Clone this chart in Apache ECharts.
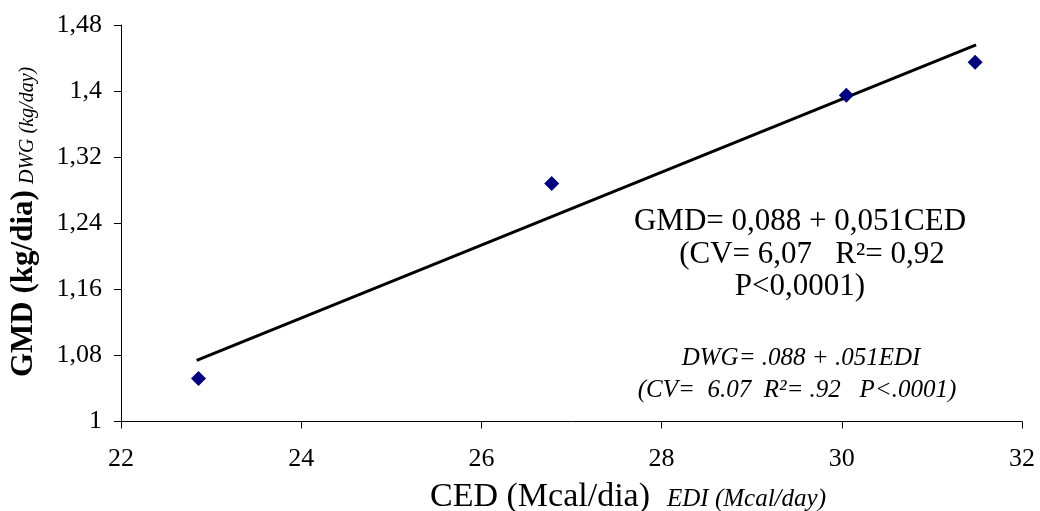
<!DOCTYPE html>
<html>
<head>
<meta charset="utf-8">
<script src="https://cdn.jsdelivr.net/npm/echarts@6/dist/echarts.min.js"></script>
<style>
  html, body { margin: 0; padding: 0; background: #fff; }
  #chart { width: 1040px; height: 511px; }
</style>
</head>
<body>
<div id="chart"></div>
<script>
// valores
const ced = [22.86, 26.78, 30.05, 31.48];
const gmd = [1.052, 1.288, 1.395, 1.435];
// reta de regressão (extremos)
const trendX = [22.84, 31.49];
const trendY = [1.074, 1.456];
const yTickLabels = ['1', '1,08', '1,16', '1,24', '1,32', '1,4', '1,48'];
const xTickLabels = ['22', '24', '26', '28', '30', '32'];

const serif = "'Liberation Serif', 'Times New Roman', serif";

const chart = echarts.init(document.getElementById('chart'));

function txt(x, y, text, font, align, extra) {
    return Object.assign({
        type: 'text',
        x: x,
        y: y,
        silent: true,
        style: {
            text: text,
            font: font,
            fill: '#000',
            align: align, textAlign: align,
            verticalAlign: 'middle', textVerticalAlign: 'middle'
        }
    }, extra || {});
}

chart.setOption({
    animation: false,
    backgroundColor: '#fff',
    grid: { left: 121, right: 18, top: 25, bottom: 89.5 },
    xAxis: {
        type: 'value',
        min: 22, max: 32, interval: 2,
        axisLine: { lineStyle: { color: '#000', width: 1 } },
        axisTick: { length: 7, lineStyle: { color: '#000' } },
        splitLine: { show: false },
        axisLabel: {
            margin: 25,
            fontFamily: serif, fontSize: 26, color: '#000',
            formatter: (v) => xTickLabels[Math.round((v - 22) / 2)]
        }
    },
    yAxis: {
        type: 'value',
        min: 1, max: 1.48, interval: 0.08,
        axisLine: { show: true, lineStyle: { color: '#000', width: 1 } },
        axisTick: { show: true, length: 7, lineStyle: { color: '#000' } },
        splitLine: { show: false },
        axisLabel: {
            margin: 19,
            fontFamily: serif, fontSize: 26, color: '#000',
            formatter: (v) => yTickLabels[Math.round((v - 1) / 0.08)]
        }
    },
    series: [
        {
            type: 'line',
            data: trendX.map((x, i) => [x, trendY[i]]),
            symbol: 'none',
            lineStyle: { color: '#000', width: 3 },
            z: 2
        },
        {
            type: 'scatter',
            data: ced.map((x, i) => [x, gmd[i]]),
            symbol: 'diamond',
            symbolSize: 15,
            itemStyle: { color: '#000080', opacity: 1 },
            z: 3
        }
    ],
    graphic: [
        // titulo eixo y
        txt(24, 377, 'GMD (kg/dia)', 'bold 31px ' + serif, 'left', { rotation: Math.PI / 2 }),
        txt(28, 184, 'DWG (kg/day)', 'italic 20px ' + serif, 'left', { rotation: Math.PI / 2 }),
        // titulo eixo x
        txt(430, 497, 'CED (Mcal/dia)', '34px ' + serif, 'left'),
        txt(667, 499, 'EDI (Mcal/day)', 'italic 25px ' + serif, 'left'),
        // equações
        txt(800, 222, 'GMD= 0,088 + 0,051CED', '31px ' + serif, 'center'),
        txt(812, 255, '(CV= 6,07   R²= 0,92', '31px ' + serif, 'center'),
        txt(800, 287, 'P<0,0001)', '31px ' + serif, 'center'),
        txt(801, 358, 'DWG= .088 + .051EDI', 'italic 25px ' + serif, 'center'),
        txt(797, 390, '(CV=  6.07  R²= .92   P<.0001)', 'italic 25px ' + serif, 'center')
    ]
});
</script>
</body>
</html>
